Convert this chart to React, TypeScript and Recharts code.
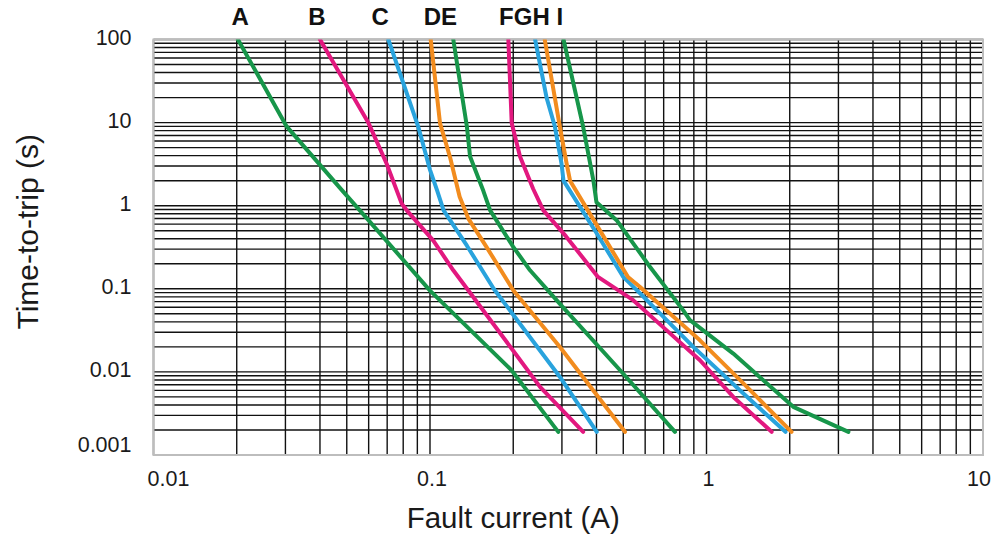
import React from 'react';
import {
  LineChart,
  Line,
  XAxis,
  YAxis,
  CartesianGrid,
  ReferenceArea,
  ReferenceDot,
  Label,
} from 'recharts';

// ---- tick lists ----
const xGridTicks = [
  0.01, 0.02, 0.03, 0.04, 0.05, 0.06, 0.07, 0.08, 0.09,
  0.1, 0.2, 0.3, 0.4, 0.5, 0.6, 0.7, 0.8, 0.9,
  1, 2, 3, 4, 5, 6, 7, 8, 9, 10,
];
const yGridTicks = [
  0.001, 0.002, 0.003, 0.004, 0.005, 0.006, 0.007, 0.008, 0.009,
  0.01, 0.02, 0.03, 0.04, 0.05, 0.06, 0.07, 0.08, 0.09,
  0.1, 0.2, 0.3, 0.4, 0.5, 0.6, 0.7, 0.8, 0.9,
  1, 2, 3, 4, 5, 6, 7, 8, 9,
  10, 20, 30, 40, 50, 60, 70, 80, 90, 100,
];
const xMajorTicks = [0.01, 0.1, 1, 10];
const xTickLabels = ['0.01', '0.1', '1', '10'];
const yMajorTicks = [0.001, 0.01, 0.1, 1, 10, 100];
const yTickLabels = ['0.001', '0.01', '0.1', '1', '10', '100'];

// ---- curves: fault current (A) vs time-to-trip (s) ----
const aCurrent = [0.0202, 0.0303, 0.048, 0.059, 0.1, 0.1975, 0.291];
const aTime = [100, 9.0, 1.54, 0.71, 0.095, 0.0104, 0.0019];

const bCurrent = [0.04, 0.06, 0.0697, 0.079, 0.0824, 0.1028, 0.1214, 0.1975, 0.25, 0.358];
const bTime = [100, 9.8, 3.2, 1.06, 0.88, 0.38, 0.167, 0.019, 0.0066, 0.0019];

const cCurrent = [0.0707, 0.0907, 0.1, 0.106, 0.112, 0.136, 0.17, 0.295, 0.401];
const cTime = [100, 8.9, 2.7, 1.54, 0.88, 0.33, 0.1, 0.0087, 0.0019];

const dCurrent = [0.1006, 0.1087, 0.118, 0.128, 0.1376, 0.16, 0.2, 0.295, 0.507];
const dTime = [100, 9.8, 3.9, 1.28, 0.7, 0.32, 0.096, 0.0199, 0.0019];

const eCurrent = [0.1214, 0.136, 0.1396, 0.156, 0.165, 0.2, 0.23, 0.295, 0.5, 0.769];
const eTime = [100, 8.9, 3.9, 1.5, 0.88, 0.32, 0.167, 0.066, 0.0095, 0.0019];

const fCurrent = [0.192, 0.1975, 0.2116, 0.236, 0.257, 0.31, 0.405, 0.543, 0.718, 0.947, 1.25, 1.72];
const fTime = [100, 9.8, 3.9, 1.6, 0.88, 0.43, 0.139, 0.073, 0.0316, 0.0138, 0.005, 0.0019];

const gCurrent = [0.24, 0.264, 0.283, 0.299, 0.304, 0.4, 0.5, 0.575, 0.896, 1.32, 1.93];
const gTime = [100, 20, 8.9, 3.2, 2.0, 0.47, 0.139, 0.088, 0.02, 0.006, 0.0019];

const hCurrent = [0.26, 0.295, 0.312, 0.321, 0.39, 0.52, 0.575, 0.947, 1.4, 2.03];
const hTime = [100, 8.9, 3.2, 2.0, 0.68, 0.139, 0.105, 0.024, 0.0066, 0.0019];

const iCurrent = [0.304, 0.358, 0.39, 0.4, 0.473, 0.625, 0.824, 0.871, 1.25, 2.06, 3.26];
const iTime = [100, 8.9, 2.0, 1.1, 0.67, 0.183, 0.055, 0.042, 0.0166, 0.0038, 0.0019];

const curveNames = ['A', 'B', 'C', 'D', 'E', 'F', 'G', 'H', 'I'];
const curveCurrents = [aCurrent, bCurrent, cCurrent, dCurrent, eCurrent, fCurrent, gCurrent, hCurrent, iCurrent];
const curveTimes = [aTime, bTime, cTime, dTime, eTime, fTime, gTime, hTime, iTime];
const curveColors = ['#17964a', '#e2187f', '#29a3dd', '#f28c1e', '#17964a', '#e2187f', '#29a3dd', '#f28c1e', '#17964a'];

// ---- top curve labels ----
const curveLabels = ['A', 'B', 'C', 'DE', 'FGH I'];
const curveLabelCurrent = [0.0206, 0.039, 0.066, 0.109, 0.232];
const curveLabelTime = 100;

const series = curveNames.map((name, k) => ({
  name,
  color: curveColors[k],
  data: curveCurrents[k].map((c, j) => ({ i: c, t: curveTimes[k][j] })),
}));

const FONT = '"Liberation Sans", Arial, Helvetica, sans-serif';

const majorIndex = (list: number[], v: number) =>
  list.findIndex((m) => Math.abs(v - m) < m * 1e-6);

const XTick = (props: any) => {
  const { x, y, payload } = props;
  const idx = majorIndex(xMajorTicks, payload.value);
  if (idx < 0) return <g />;
  const shift = idx === 0 ? 15 : idx === xMajorTicks.length - 1 ? -4 : 2;
  return (
    <text
      x={x + shift}
      y={y + 24}
      textAnchor="middle"
      dominantBaseline="central"
      fontFamily={FONT}
      fontSize={21.5}
      fill="#1a1a1a"
    >
      {xTickLabels[idx]}
    </text>
  );
};

const YTick = (props: any) => {
  const { x, y, payload } = props;
  const idx = majorIndex(yMajorTicks, payload.value);
  if (idx < 0) return <g />;
  const dy = idx === 0 ? -10 : -2;
  return (
    <text
      x={x - 22}
      y={y + dy}
      textAnchor="end"
      dominantBaseline="central"
      fontFamily={FONT}
      fontSize={21.5}
      fill="#1a1a1a"
    >
      {yTickLabels[idx]}
    </text>
  );
};

const YTitle = (props: any) => {
  const vb = props.viewBox || { x: 0, y: 39.5, width: 153.5, height: 415.5 };
  const cx = vb.x + 27;
  const cy = vb.y + vb.height / 2 - 15.5;
  return (
    <text
      x={cx}
      y={cy}
      transform={`rotate(-90, ${cx}, ${cy})`}
      textAnchor="middle"
      dominantBaseline="central"
      fontFamily={FONT}
      fontSize={30}
      fill="#1a1a1a"
    >
      Time-to-trip (s)
    </text>
  );
};

const XTitle = (props: any) => {
  const vb = props.viewBox || { x: 153.5, y: 455, width: 829.5, height: 30 };
  const cx = vb.x + vb.width / 2 - 55;
  const cy = vb.y + 73;
  return (
    <text x={cx} y={cy} textAnchor="middle" fontFamily={FONT} fontSize={29.5} fill="#1a1a1a">
      Fault current (A)
    </text>
  );
};

const makeLabelShape = (text: string) => (props: any) => (
  <text
    x={props.cx}
    y={props.cy - 15}
    textAnchor="middle"
    fontFamily={FONT}
    fontWeight="bold"
    fontSize={24}
    fill="#111"
  >
    {text}
  </text>
);

export default function App() {
  return (
    <div style={{ marginTop: -8, marginLeft: -8, width: 1002, height: 537 }}>
      <LineChart
        width={1002}
        height={537}
        margin={{ top: 39.5, right: 19, left: 0, bottom: 52 }}
      >
        <CartesianGrid stroke="#111" strokeWidth={1.4} horizontal vertical />
        <XAxis
          dataKey="i"
          type="number"
          scale="log"
          domain={[0.01, 10]}
          allowDataOverflow
          ticks={xGridTicks}
          interval={0}
          tick={<XTick />}
          tickLine={false}
          axisLine={false}
          tickSize={0}
          tickMargin={0}
          height={30}
        >
          <Label content={<XTitle />} />
        </XAxis>
        <YAxis
          dataKey="t"
          type="number"
          scale="log"
          domain={[0.001, 100]}
          allowDataOverflow
          ticks={yGridTicks}
          interval={0}
          tick={<YTick />}
          tickLine={false}
          axisLine={false}
          tickSize={0}
          tickMargin={0}
          width={153.5}
        >
          <Label content={<YTitle />} />
        </YAxis>
        <ReferenceArea
          x1={0.01}
          x2={10}
          y1={0.001}
          y2={100}
          fill="none"
          fillOpacity={0}
          stroke="#bdbdbd"
          strokeWidth={2}
          ifOverflow="visible"
        />
        {series.map((s) => (
          <Line
            key={s.name}
            data={s.data}
            dataKey="t"
            name={s.name}
            type="linear"
            stroke={s.color}
            strokeWidth={4}
            strokeLinejoin="round"
            strokeLinecap="round"
            dot={false}
            activeDot={false}
            isAnimationActive={false}
          />
        ))}
        {curveLabels.map((lab, k) => (
          <ReferenceDot
            key={lab}
            x={curveLabelCurrent[k]}
            y={curveLabelTime}
            r={1}
            ifOverflow="visible"
            shape={makeLabelShape(lab)}
          />
        ))}
      </LineChart>
    </div>
  );
}
